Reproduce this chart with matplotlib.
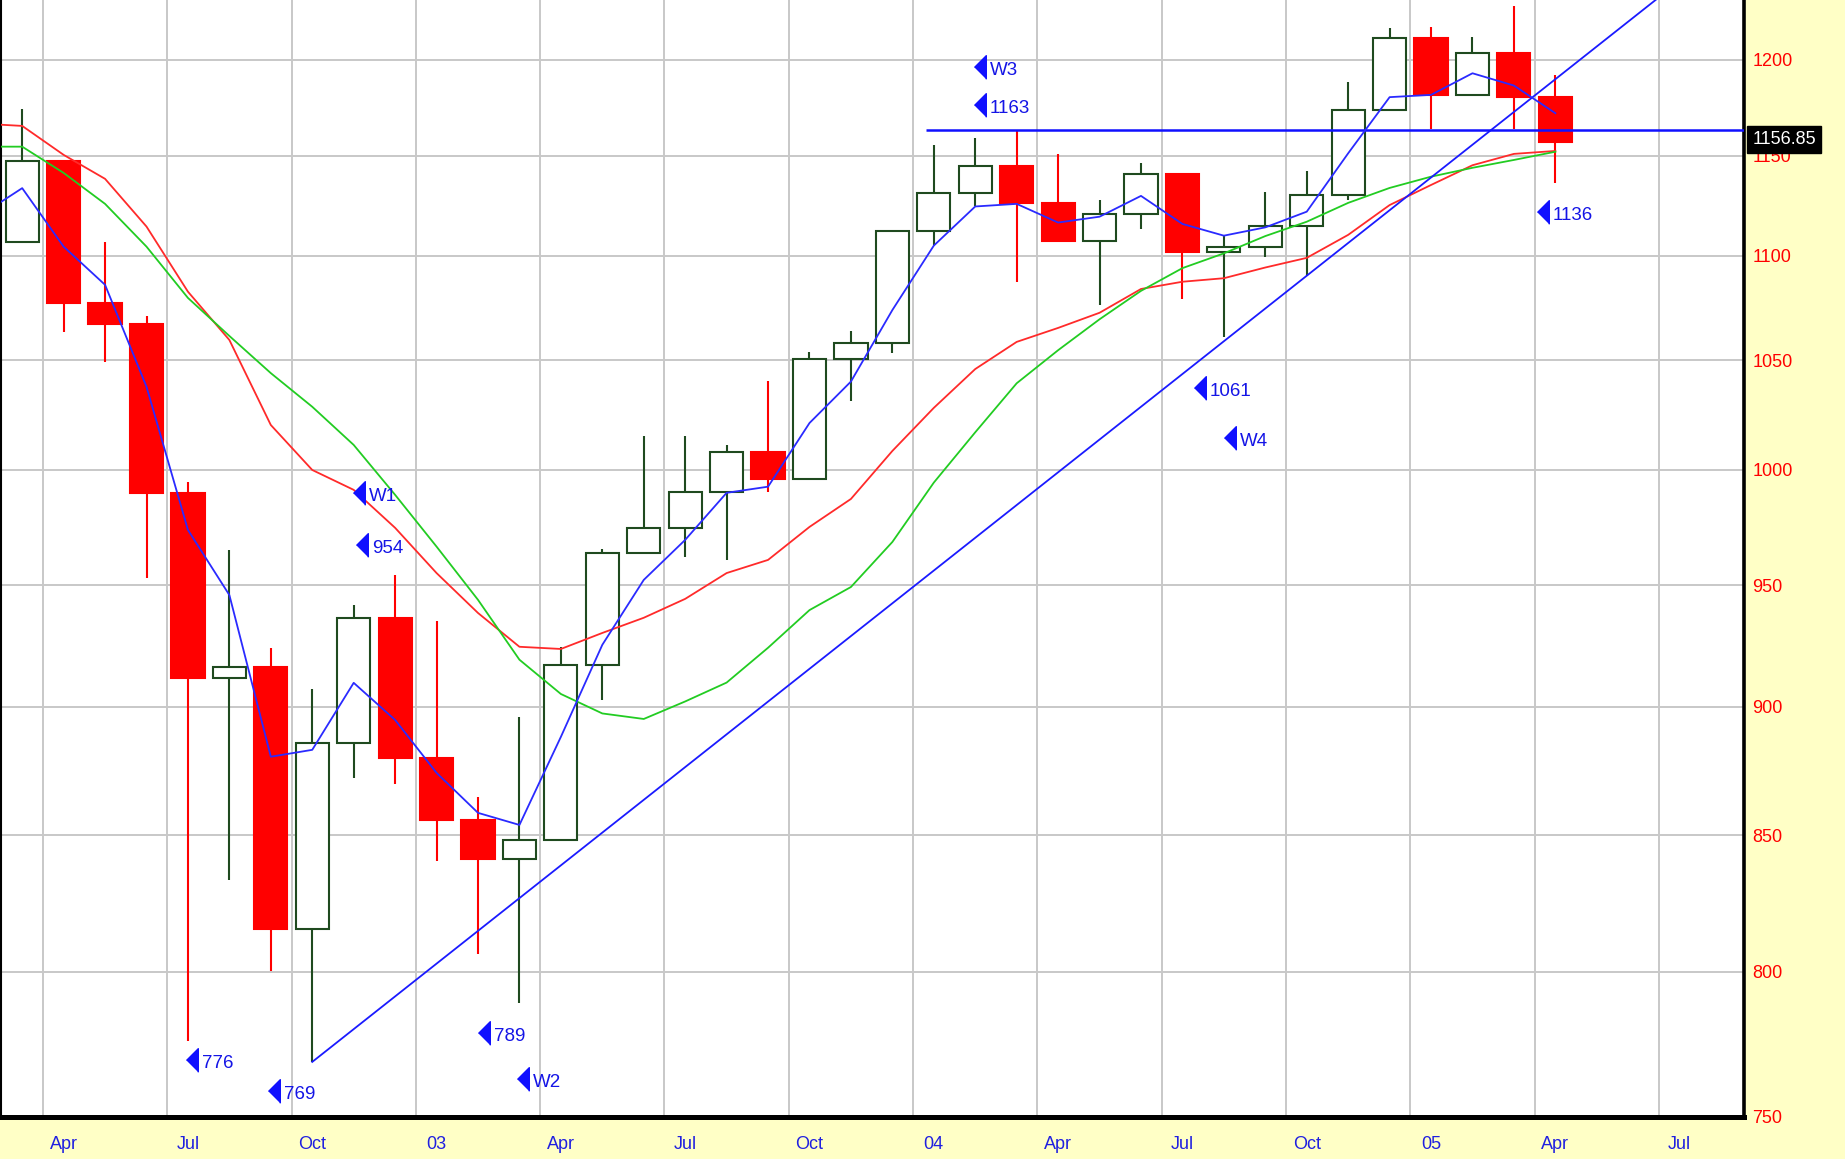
import matplotlib
matplotlib.use('Agg')
import matplotlib.pyplot as plt
from matplotlib.ticker import FixedLocator, FixedFormatter, NullLocator

# monthly candles, Mar 2002 .. Apr 2005 (month index 0 .. 37)
opens = [1106.7, 1147.4, 1076.9, 1067.1, 989.8, 911.6, 916.1, 815.3, 885.8, 936.3,
         879.8, 855.7, 841.2, 848.2, 916.9, 963.6, 974.5, 990.3, 1008.0, 996.0,
         1050.7, 1058.2, 1111.9, 1131.1, 1144.9, 1126.2, 1107.3, 1120.7, 1140.8, 1101.7,
         1104.2, 1114.6, 1130.2, 1173.8, 1211.9, 1181.3, 1203.6, 1180.6]
highs = [1173.9, 1147.8, 1106.6, 1070.7, 994.5, 965.0, 924.0, 907.4, 941.8, 954.3,
         935.1, 864.6, 895.9, 924.2, 965.4, 1015.3, 1015.4, 1011.0, 1040.3, 1053.8,
         1063.7, 1112.6, 1155.4, 1159.0, 1163.2, 1150.6, 1127.7, 1146.3, 1140.8, 1109.7,
         1131.5, 1142.1, 1188.5, 1217.3, 1217.8, 1212.4, 1229.1, 1191.9]
lows = [1106.7, 1063.5, 1049.0, 952.9, 775.7, 833.4, 800.2, 768.6, 872.1, 869.5,
        840.3, 806.3, 788.9, 847.9, 902.8, 963.6, 962.1, 960.8, 990.4, 996.0,
        1031.2, 1053.4, 1105.1, 1124.4, 1087.2, 1107.2, 1076.3, 1113.3, 1078.8, 1060.7,
        1099.2, 1090.2, 1127.6, 1173.8, 1163.8, 1181.0, 1163.7, 1136.2]
closes = [1147.4, 1076.9, 1067.1, 989.8, 911.6, 916.1, 815.3, 885.8, 936.3, 879.8,
          855.7, 841.2, 848.2, 916.9, 963.6, 974.5, 990.3, 1008.0, 996.0, 1050.7,
          1058.2, 1111.9, 1131.1, 1144.9, 1126.2, 1107.3, 1120.7, 1140.8, 1101.7, 1104.2,
          1114.6, 1130.2, 1173.8, 1211.9, 1181.3, 1203.6, 1180.6, 1156.85]

# moving averages, first value is Feb 2002 (index -1)
ma_blue = [1120.0, 1133.5, 1104.4, 1085.8, 1037.7, 973.7, 945.9, 880.3, 883.0, 909.7,
           894.8, 874.0, 858.6, 854.0, 888.1, 925.2, 952.3, 969.4, 989.9, 992.6,
           1021.1, 1040.1, 1073.7, 1104.9, 1124.3, 1125.6, 1116.3, 1119.2, 1129.6, 1115.6,
           1109.8, 1113.9, 1121.7, 1151.2, 1180.3, 1181.5, 1192.9, 1186.4, 1171.9]
ma_red = [1166.5, 1165.3, 1150.4, 1138.2, 1114.3, 1082.5, 1059.5, 1020.2, 1000.0, 991.2,
          974.6, 955.2, 938.4, 924.4, 923.5, 930.1, 936.4, 944.3, 955.2, 960.8,
          975.0, 987.2, 1008.5, 1028.0, 1045.9, 1058.6, 1065.2, 1072.4, 1083.8, 1087.3,
          1089.0, 1094.2, 1098.9, 1110.2, 1125.0, 1135.1, 1145.1, 1150.9, 1152.4]
ma_green = [1154.6, 1154.6, 1141.2, 1125.6, 1104.4, 1079.5, 1061.4, 1044.0, 1028.5, 1011.2,
            989.0, 966.5, 943.9, 919.1, 905.2, 897.4, 895.2, 902.2, 909.8, 924.0,
            939.6, 949.3, 968.5, 994.4, 1016.9, 1039.3, 1054.7, 1069.3, 1082.9, 1093.9,
            1101.1, 1109.6, 1116.7, 1126.1, 1133.6, 1139.3, 1143.8, 1147.8, 1152.0]

# x axis labels (month index of Apr/Jul/Oct/Jan)
tick_pos = [1, 4, 7, 10, 13, 16, 19, 22, 25, 28, 31, 34, 37, 40]
tick_labels = ['Apr', 'Jul', 'Oct', '03', 'Apr', 'Jul', 'Oct', '04',
               'Apr', 'Jul', 'Oct', '05', 'Apr', 'Jul']
price_ticks = [750, 800, 850, 900, 950, 1000, 1050, 1100, 1150, 1200]

# wave marks: text, month index, price
mark_text = ['W1', '954', '776', '769', '789', 'W2', 'W3', '1163', '1061', 'W4', '1136']
mark_x = [7.98, 8.06, 3.96, 5.93, 11.01, 11.95, 22.96, 22.97, 28.28, 29.0, 36.55]
mark_y = [989.7, 967.2, 769.2, 758.6, 778.4, 762.9, 1196.3, 1176.2, 1037.0, 1014.2, 1121.7]

trend_from, trend_to = 7, 31   # trendline through the Oct 2002 and Oct 2004 lows
level_month = 24               # horizontal line at the Mar 2004 high (1163)
level_start = 21.8             # ... drawn from here to the right edge

up_col = '#1f4a1f'
down_col = '#ff0000'
bg_col = '#ffffc6'

plt.rcParams['font.family'] = ['Liberation Sans', 'DejaVu Sans']

fig = plt.figure(figsize=(18.45, 11.59), dpi=100, facecolor=bg_col)
ax = fig.add_axes([0.0008, 0.03624, 0.9444, 0.96376])
ax.set_facecolor('white')
ax.set_yscale('log')
x0, x1 = -0.5, 41.55
ax.set_xlim(x0, x1)
ax.set_ylim(750, 1232.4)

# candles
xs = list(range(len(opens)))
up = [c >= o for o, c in zip(opens, closes)]
wick_cols = [up_col if u else down_col for u in up]
ax.vlines(xs, lows, highs, colors=wick_cols, linewidth=1.5, zorder=2)
bottoms = [min(o, c) for o, c in zip(opens, closes)]
heights = [abs(c - o) for o, c in zip(opens, closes)]
face = ['white' if u else down_col for u in up]
ax.bar(xs, heights, bottom=bottoms, width=0.8, color=face, edgecolor=wick_cols,
       linewidth=1.5, zorder=2.2)

# moving averages
ma_x = list(range(-1, len(opens)))
ax.plot(ma_x, ma_red, color='#ff2a2a', linewidth=1.3, zorder=3)
ax.plot(ma_x, ma_green, color='#22cc22', linewidth=1.3, zorder=3)
ax.plot(ma_x, ma_blue, color='#2a2aff', linewidth=1.3, zorder=3.1)

# trendline, extended to the right edge in log space
lo_a, lo_b = lows[trend_from], lows[trend_to]
end_val = lo_a * (lo_b / lo_a) ** ((x1 - trend_from) / (trend_to - trend_from))
ax.plot([trend_from, x1], [lo_a, end_val], color='#1a1aff', linewidth=1.3, zorder=3)

# resistance level at the W3 high
ax.hlines(highs[level_month], level_start, x1, colors='#1010ff', linewidth=1.8, zorder=3)

# last price box on the price scale
ax.annotate(f'{closes[-1]:.2f}', xy=(1.0, closes[-1]), xycoords=('axes fraction', 'data'),
            xytext=(6, 2), textcoords='offset points', ha='left', va='center',
            color='white', fontsize=13, zorder=6, annotation_clip=False,
            bbox=dict(boxstyle='square,pad=0.3', fc='black', ec='black'))

# wave marks
tri = [(0, 0), (1, 1), (1, -1)]
ax.plot(mark_x, mark_y, linestyle='none', marker=tri, markersize=17,
        color='#1010ff', zorder=4)
for t, x, y in zip(mark_text, mark_x, mark_y):
    ax.annotate(t, xy=(x, y), xytext=(11.5, -2.5), textcoords='offset points',
                ha='left', va='center', color='#1414e6', fontsize=13.5,
                family=['Liberation Sans Narrow', 'Liberation Sans', 'DejaVu Sans'],
                zorder=4)

# axes, ticks, grid
ax.set_axisbelow(True)
ax.xaxis.set_major_locator(FixedLocator(tick_pos))
ax.xaxis.set_major_formatter(FixedFormatter(tick_labels))
ax.xaxis.set_minor_locator(FixedLocator([p - 0.5 for p in tick_pos]))
ax.tick_params(axis='x', which='both', length=0, pad=14, labelsize=13, labelcolor='#2020e0')
ax.yaxis.set_major_locator(FixedLocator(price_ticks))
ax.yaxis.set_major_formatter(FixedFormatter([str(p) for p in price_ticks]))
ax.yaxis.set_minor_locator(NullLocator())
ax.yaxis.tick_right()
ax.tick_params(axis='y', length=0, pad=6, labelsize=13, labelcolor='#ff0000')
ax.grid(True, which='minor', axis='x', color='#c8c8c8', linewidth=1.4)
ax.grid(True, which='major', axis='y', color='#c8c8c8', linewidth=1.4)

ax.spines['top'].set_visible(False)
ax.spines['left'].set_linewidth(1.5)
ax.spines['right'].set_linewidth(2.6)
ax.spines['bottom'].set_linewidth(3.6)

fig.savefig('out.png', dpi=100, facecolor=bg_col)
